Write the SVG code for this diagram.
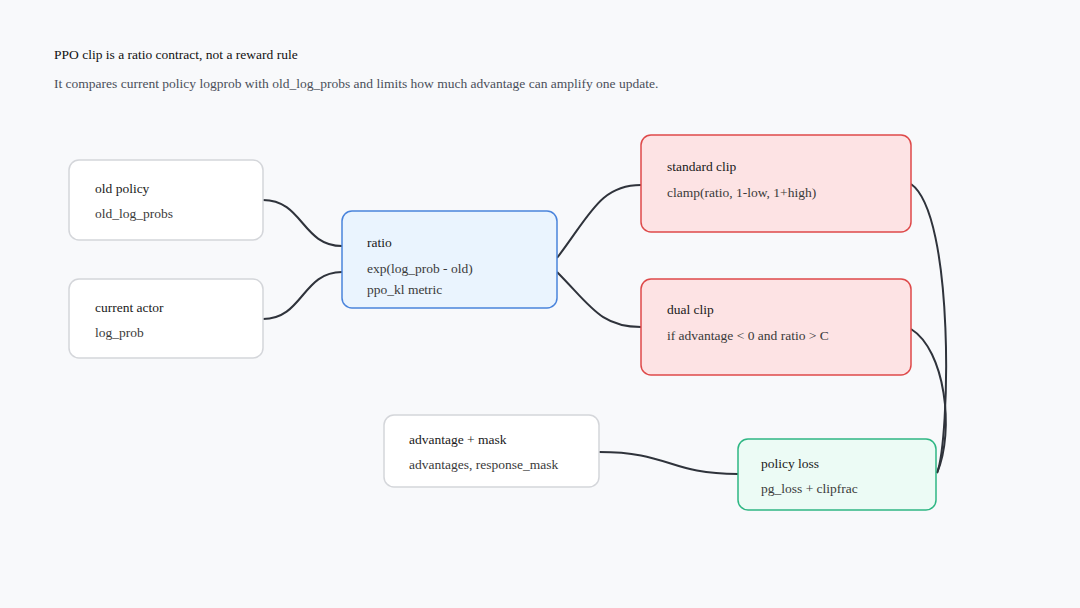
<svg xmlns="http://www.w3.org/2000/svg" width="1080" height="608" viewBox="0 0 1080 608">
<style>
text{font-family:"Liberation Serif","Times New Roman",serif;font-size:13.5px}
.t{fill:#1a1a1a}
.s{fill:#3a3a3a}
.h{fill:#111}
.sub{fill:#4a4f5a}
.plain{fill:#ffffff;stroke:#d4d6da;stroke-width:1.5}
.blue{fill:#eaf4fe;stroke:#4a84dc;stroke-width:1.5}
.red{fill:#fde3e4;stroke:#de4a4a;stroke-width:1.5}
.green{fill:#ecfbf5;stroke:#2fb784;stroke-width:1.5}
.e{fill:none;stroke:#2f333b;stroke-width:2}
</style>
<rect width="1080" height="608" fill="#f8f9fb"/>
<text class="h" x="54" y="59">PPO clip is a ratio contract, not a reward rule</text>
<text class="sub" x="54" y="88">It compares current policy logprob with old_log_probs and limits how much advantage can amplify one update.</text>
<g id="connectors">
<path class="e" d="M263,200 C303,200 302,246 342,246"/>
<path class="e" d="M263,319 C303,319 302,272 342,272"/>
<path class="e" d="M557,258 C590,215 600,185 641,185"/>
<path class="e" d="M557,272 C590,305 600,327 641,327"/>
<path class="e" d="M599,452 C670,452 668,474 738,474"/>
<path class="e" d="M911,184 C955,215 950,440 937,473"/>
<path class="e" d="M911,329 C945,350 955,430 937,473"/>
</g>
<g id="old-policy">
<rect class="plain" x="69" y="160" width="194" height="80" rx="10"/>
<text class="t" x="95" y="193">old policy</text>
<text class="s" x="95" y="218">old_log_probs</text>
</g>
<g id="current-actor">
<rect class="plain" x="69" y="279" width="194" height="79" rx="10"/>
<text class="t" x="95" y="312">current actor</text>
<text class="s" x="95" y="337">log_prob</text>
</g>
<g id="ratio">
<rect class="blue" x="342" y="211" width="215" height="97" rx="10"/>
<text class="t" x="367" y="247">ratio</text>
<text class="s" x="367" y="273">exp(log_prob - old)</text>
<text class="s" x="367" y="294">ppo_kl metric</text>
</g>
<g id="standard-clip">
<rect class="red" x="641" y="135" width="270" height="97" rx="10"/>
<text class="t" x="667" y="171">standard clip</text>
<text class="s" x="667" y="197">clamp(ratio, 1-low, 1+high)</text>
</g>
<g id="dual-clip">
<rect class="red" x="641" y="279" width="270" height="96" rx="10"/>
<text class="t" x="667" y="314">dual clip</text>
<text class="s" x="667" y="340">if advantage &lt; 0 and ratio &gt; C</text>
</g>
<g id="advantage-mask">
<rect class="plain" x="384" y="415" width="215" height="72" rx="10"/>
<text class="t" x="409" y="444">advantage + mask</text>
<text class="s" x="409" y="469">advantages, response_mask</text>
</g>
<g id="policy-loss">
<rect class="green" x="738" y="439" width="198" height="71" rx="10"/>
<text class="t" x="761" y="468">policy loss</text>
<text class="s" x="761" y="493">pg_loss + clipfrac</text>
</g>
</svg>
